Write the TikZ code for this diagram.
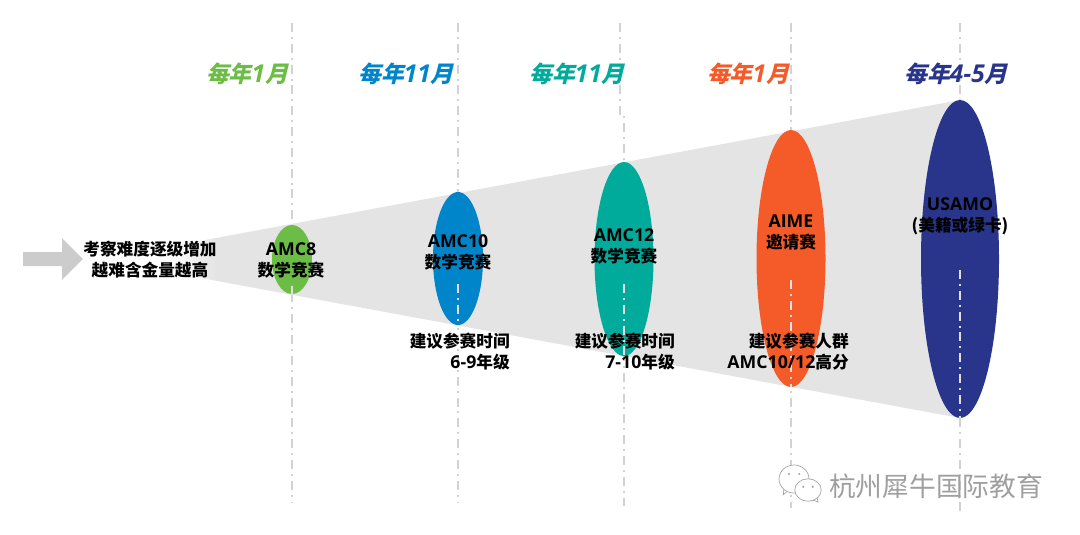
\documentclass[tikz,border=0pt]{standalone}
\usepackage{fontspec}
\setmainfont{Open Sans}
\newfontfamily\cjk{Noto Sans CJK SC}
\newfontfamily\cjkslant[FakeSlant=0.25]{Noto Sans CJK SC Bold}
\usetikzlibrary{positioning}
\usetikzlibrary{shapes.geometric}
\definecolor{funnelgray}{RGB}{228,228,228}
\definecolor{arrowgray}{RGB}{204,204,204}
\definecolor{linegray}{RGB}{210,210,210}
\definecolor{amcgreen}{RGB}{108,189,69}
\definecolor{amcblue}{RGB}{0,133,202}
\definecolor{amcteal}{RGB}{0,171,155}
\definecolor{aimered}{RGB}{244,91,41}
\definecolor{usamoblue}{RGB}{40,53,139}
\tikzset{
  stage/.style={ellipse,draw=none,inner sep=0pt},
  timeline/.style={linegray,line width=1.4pt,dash pattern=on 6.4pt off 3.5pt on 1.4pt off 3.5pt},
  innerline/.style={white!88!black,line width=1.2pt,dash pattern=on 6.4pt off 3.5pt on 1.4pt off 3.5pt},
  monthlabel/.style={font=\fontsize{17.5}{20}\selectfont\bfseries\itshape},
  bodylabel/.style={font=\fontsize{12.6}{15}\selectfont\bfseries,inner sep=0pt,text=black}
}
\newcommand{\zh}[1]{{\fontsize{11.85}{15}\selectfont\cjk #1}}
\newcommand{\zhmonth}[1]{{\fontsize{16.2}{20}\selectfont\cjkslant #1}}
\begin{document}
\begin{tikzpicture}
\useasboundingbox (0,0) rectangle (27,13.35);
\fill[white] (0,0) rectangle (27,13.35);
\draw[timeline] (7.3,12.775) -- (7.3,0.8);
\draw[timeline] (11.45,12.775) -- (11.45,0.775);
\draw[timeline] (15.5,12.775) -- (15.5,10.5) -- (15.6,10.5) -- (15.6,0.7);
\draw[timeline] (19.775,12.775) -- (19.775,0.65);
\draw[timeline] (24,12.775) -- (24,0.55);

\fill[funnelgray] (5.4,7.4) -- (24,10.85) -- (24,2.9) -- (5.4,6.33) -- cycle;
\shade[left color=white,right color=funnelgray] (4.2,7.18) -- (5.4,7.4) -- (5.4,6.33) -- (4.2,6.55) -- cycle;
\fill[arrowgray] (0.575,6.7) -- (1.55,6.7) -- (1.55,6.35) -- (2.07,6.875) -- (1.55,7.4) -- (1.55,7.05) -- (0.575,7.05) -- cycle;

\node[stage,fill=amcgreen,minimum width=1cm,minimum height=1.725cm] (amc8) at (7.3,6.8625) {};
\node[stage,fill=amcblue,minimum width=1.25cm,minimum height=3.325cm] (amc10) at (11.45,6.8875) {};
\node[stage,fill=amcteal,minimum width=1.475cm,minimum height=4.85cm] (amc12) at (15.6,6.875) {};
\node[stage,fill=aimered,minimum width=1.725cm,minimum height=6.425cm] (aime) at (19.775,6.8875) {};
\node[stage,fill=usamoblue,minimum width=1.95cm,minimum height=7.95cm] (usamo) at (24,6.875) {};

\draw[innerline] (7.3,6.2) -- (amc8.south);
\draw[innerline] (11.45,6.25) -- (amc10.south);
\draw[innerline] (15.6,6.25) -- (amc12.south);
\draw[innerline] (19.775,6.35) -- (aime.south);
\draw[innerline] (24,6.6) -- (usamo.south);

\node[monthlabel,text=amcgreen] (month8) at (6.175,11.5) {\zhmonth{每年}1\zhmonth{月}};
\node[monthlabel,text=amcblue] (month10) at (10.15,11.5) {\zhmonth{每年}11\zhmonth{月}};
\node[monthlabel,text=amcteal] (month12) at (14.425,11.5) {\zhmonth{每年}11\zhmonth{月}};
\node[monthlabel,text=aimered] (monthaime) at (18.7,11.5) {\zhmonth{每年}1\zhmonth{月}};
\node[monthlabel,text=usamoblue] (monthusamo) at (23.9,11.5) {\zhmonth{每年}4-5\zhmonth{月}};

\node[bodylabel,align=center] (intro) at (3.75,6.85) {\zh{考察难度逐级增加}\\\zh{越难含金量越高}};
\node[bodylabel,align=center] (amc8text) at (7.275,6.85) {AMC8\\\zh{数学竞赛}};
\node[bodylabel,align=center] (amc10text) at (11.45,7.03) {AMC10\\\zh{数学竞赛}};
\node[bodylabel,align=center] (amc12text) at (15.6,7.2) {AMC12\\\zh{数学竞赛}};
\node[bodylabel,align=center] (aimetext) at (19.775,7.53) {AIME\\\zh{邀请赛}};
\node[bodylabel,align=center] (usamotext) at (24,7.95) {USAMO\\\zh{(美籍或绿卡)}};

\node[bodylabel,align=right,anchor=east] (amc10note) at (12.75,4.55) {\zh{建议参赛时间}\\6-9\zh{年级}};
\node[bodylabel,align=right,anchor=east] (amc12note) at (16.875,4.55) {\zh{建议参赛时间}\\7-10\zh{年级}};
\node[bodylabel,align=right,anchor=east] (aimenote) at (21.225,4.55) {\zh{建议参赛人群}\\AMC10/12\zh{高分}};

% watermark
\begin{scope}[gray!70,line width=0.5pt]
\draw[fill=white] (19.58,0.98) -- (19.72,1.1) -- (19.6,1.15) -- cycle;
\draw[fill=white] (19.85,1.375) ellipse (0.375 and 0.35);
\draw[fill=white] (20.45,0.8) -- (20.3,0.86) -- (20.42,0.95) -- cycle;
\draw[fill=white] (20.2,1.1) ellipse (0.33 and 0.28);
\fill (19.72,1.5) circle (0.03) (19.98,1.5) circle (0.03);
\fill (20.08,1.18) circle (0.03) (20.32,1.18) circle (0.03);
\end{scope}
\node[font=\fontsize{19}{22}\selectfont,text=gray!75,inner sep=0pt] (watermark) at (23.4,1.2) {\zh{\fontsize{19}{22}\selectfont 杭州犀牛国际教育}};
\end{tikzpicture}
\end{document}
